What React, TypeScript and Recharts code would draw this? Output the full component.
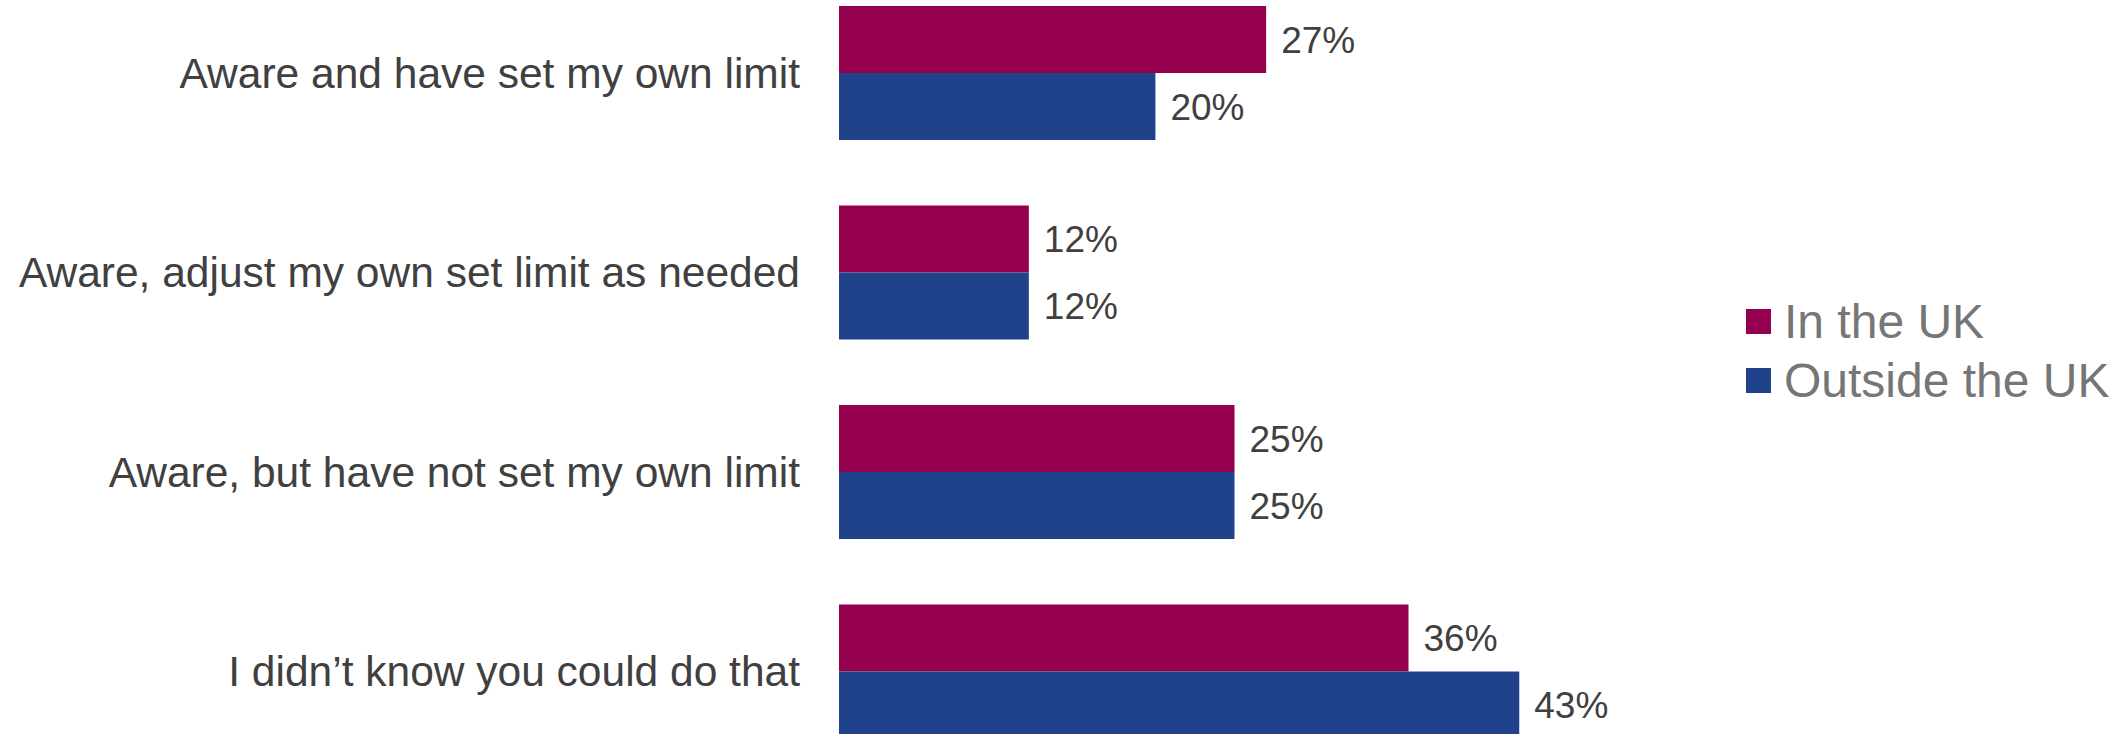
import React from 'react';
import { BarChart, Bar, XAxis, YAxis, LabelList } from 'recharts';

// Survey answers, top to bottom
const categories = [
  'Aware and have set my own limit',
  'Aware, adjust my own set limit as needed',
  'Aware, but have not set my own limit',
  'I didn\u2019t know you could do that'
];
const inTheUK = [27, 12, 25, 36];
const outsideTheUK = [20, 12, 25, 43];
const seriesNames = ['In the UK', 'Outside the UK'];

const COLORS = ['#95004E', '#1F428A'];
const FONT = '"Liberation Sans", Arial, sans-serif';

const data = categories.map((name, i) => ({
  name,
  uk: inTheUK[i],
  outside: outsideTheUK[i]
}));

// legend drawn as plain html so the chart keeps its full plot height
const ChartLegend = () => <div style={{
  position: 'absolute',
  left: 1746,
  top: 292,
  fontFamily: FONT
}}>
    {seriesNames.map((s, i) => <div key={s} style={{
    display: 'flex',
    alignItems: 'center',
    height: 59
  }}>
        <span style={{
      display: 'inline-block',
      width: 25,
      height: 25,
      background: COLORS[i],
      marginRight: 13
    }} />
        <span style={{
      fontSize: 48,
      color: '#767676',
      whiteSpace: 'nowrap'
    }}>{s}</span>
      </div>)}
  </div>;

const App: React.FC = () => {
  return <div style={{
    position: 'absolute',
    left: 0,
    top: 0,
    width: 2118,
    height: 734,
    overflow: 'hidden',
    background: '#fff'
  }}>
      <div style={{
      position: 'absolute',
      left: 0,
      top: -27
    }}>
        <BarChart width={2118} height={798} data={data} layout="vertical" margin={{
        top: 0,
        right: 488,
        left: 0,
        bottom: 0
      }} barCategoryGap={33} barGap={0}>
          <XAxis type="number" domain={[0, 50]} hide />
          <YAxis type="category" dataKey="name" width={839} axisLine={false} tickLine={false} tickSize={0} tickMargin={39} interval={0} tick={{
          fontSize: 42.5,
          fill: '#404040',
          fontFamily: FONT
        }} />
          <Bar dataKey="uk" name={seriesNames[0]} fill={COLORS[0]} isAnimationActive={false}>
            <LabelList dataKey="uk" position="right" offset={15} formatter={(v: number) => `${v}%`} style={{
            fontSize: 37,
            fill: '#404040',
            fontFamily: FONT
          }} />
          </Bar>
          <Bar dataKey="outside" name={seriesNames[1]} fill={COLORS[1]} isAnimationActive={false}>
            <LabelList dataKey="outside" position="right" offset={15} formatter={(v: number) => `${v}%`} style={{
            fontSize: 37,
            fill: '#404040',
            fontFamily: FONT
          }} />
          </Bar>
        </BarChart>
      </div>
      <ChartLegend />
    </div>;
};

export default App;
